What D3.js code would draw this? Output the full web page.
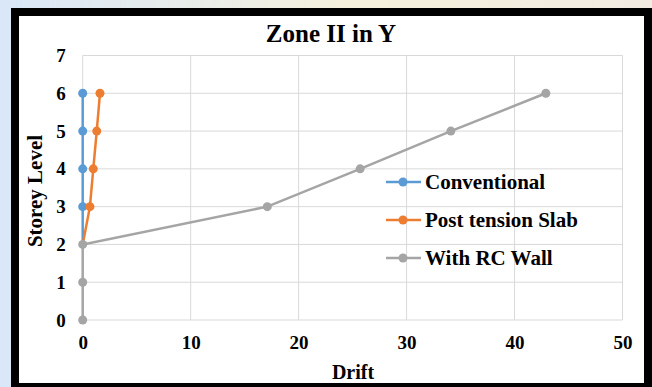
<!DOCTYPE html>
<html>
<head>
<meta charset="utf-8">
<script src="https://cdn.jsdelivr.net/npm/d3@7/dist/d3.min.js"></script>
<style>
  html, body { margin: 0; padding: 0; }
  body { width: 652px; height: 387px; overflow: hidden; }
  svg { display: block; }
  text { font-family: "Liberation Serif", "Times New Roman", serif; font-weight: bold; fill: #000; }
</style>
</head>
<body>
<svg id="chart" width="652" height="387"></svg>
<script>
// Storey levels (y) and inter-storey drift per structural system (x)
const levels = [0, 1, 2, 3, 4, 5, 6];
const conventional = [0, 0, 0, 0, 0, 0, 0];
const postTension = [0, 0, 0, 0.67, 0.98, 1.3, 1.6];
const rcWall = [0, 0, 0, 17.1, 25.7, 34.1, 42.9];

const seriesNames = ["Conventional", "Post tension Slab", "With RC Wall"];
const seriesColors = ["#5B9BD5", "#ED7D31", "#A5A5A5"];
const xTicks = [0, 10, 20, 30, 40, 50];
const yTicks = [0, 1, 2, 3, 4, 5, 6, 7];

const svg = d3.select("#chart");
const W = 652, H = 387;

// Backdrop around the framed chart
const defs = svg.append("defs");
const bg = defs.append("linearGradient").attr("id", "bg").attr("x1", 0).attr("y1", 0).attr("x2", 1).attr("y2", 0);
bg.append("stop").attr("offset", "0%").attr("stop-color", "#d9e7f8");
bg.append("stop").attr("offset", "55%").attr("stop-color", "#f6f1dc");
bg.append("stop").attr("offset", "100%").attr("stop-color", "#f1ebe2");
svg.append("rect").attr("width", W).attr("height", H).attr("fill", "url(#bg)");

// White chart area with thick black frame
svg.append("rect")
  .attr("x", 15).attr("y", 12).attr("width", 633).attr("height", 375)
  .attr("fill", "#fff").attr("stroke", "#000").attr("stroke-width", 8);

const x = d3.scaleLinear().domain([0, 50]).range([82.7, 622.5]);
const y = d3.scaleLinear().domain([0, 7]).range([320, 55.5]);

// Gridlines
const grid = svg.append("g");
grid.selectAll("line.v").data(xTicks).join("line")
  .attr("x1", d => x(d)).attr("x2", d => x(d))
  .attr("y1", y(0)).attr("y2", y(7))
  .attr("stroke", "#d9d9d9").attr("stroke-width", 1);
grid.selectAll("line.h").data(yTicks).join("line")
  .attr("x1", x(0)).attr("x2", x(50))
  .attr("y1", d => y(d)).attr("y2", d => y(d))
  .attr("stroke", "#d9d9d9").attr("stroke-width", 1);

// Axes (tick labels only)
const xAxis = d3.axisBottom(x).tickValues(xTicks).tickSize(0).tickPadding(19).tickFormat(d3.format("d"));
const yAxis = d3.axisLeft(y).tickValues(yTicks).tickSize(0).tickPadding(17).tickFormat(d3.format("d"));
const gx = svg.append("g").attr("transform", `translate(0,${y(0)})`).call(xAxis);
const gy = svg.append("g").attr("transform", `translate(${x(0)},0)`).call(yAxis);
[gx, gy].forEach(g => {
  g.select(".domain").remove();
  g.selectAll("text").style("font-size", "19px")
    .style("font-family", "'Liberation Serif', serif").style("font-weight", "bold");
});
gx.selectAll("text").attr("dy", "0.5em");

// Titles
svg.append("text").attr("x", 331).attr("y", 42).attr("text-anchor", "middle")
  .style("font-size", "25px").text("Zone II in Y");
svg.append("text").attr("x", 353).attr("y", 379).attr("text-anchor", "middle")
  .style("font-size", "20px").text("Drift");
svg.append("text").attr("transform", "translate(42,191) rotate(-90)").attr("text-anchor", "middle")
  .style("font-size", "21px").text("Storey Level");

// Series
const data = [conventional, postTension, rcWall];
const line = d3.line().x(d => x(d[0])).y(d => y(d[1]));
data.forEach((vals, i) => {
  const pts = vals.map((v, k) => [v, levels[k]]);
  // Conventional and post-tension series are drawn from level 2 upward
  const shown = i === 2 ? pts : pts.filter(p => p[1] >= 2);
  const g = svg.append("g");
  g.append("path").attr("d", line(shown)).attr("fill", "none")
    .attr("stroke", seriesColors[i]).attr("stroke-width", 2.5);
  g.selectAll("circle").data(shown.filter(p => i === 2 || p[1] >= 3)).join("circle")
    .attr("cx", d => x(d[0])).attr("cy", d => y(d[1])).attr("r", 4.5)
    .attr("fill", seriesColors[i]);
});

// Legend
const legend = svg.append("g");
seriesNames.forEach((name, i) => {
  const ly = 182 + i * 38;
  legend.append("line").attr("x1", 386).attr("x2", 421).attr("y1", ly).attr("y2", ly)
    .attr("stroke", seriesColors[i]).attr("stroke-width", 2.5);
  legend.append("circle").attr("cx", 403).attr("cy", ly).attr("r", 4.5).attr("fill", seriesColors[i]);
  legend.append("text").attr("x", 425).attr("y", ly).attr("dy", "0.35em")
    .style("font-size", "21px").text(name);
});
</script>
</body>
</html>
